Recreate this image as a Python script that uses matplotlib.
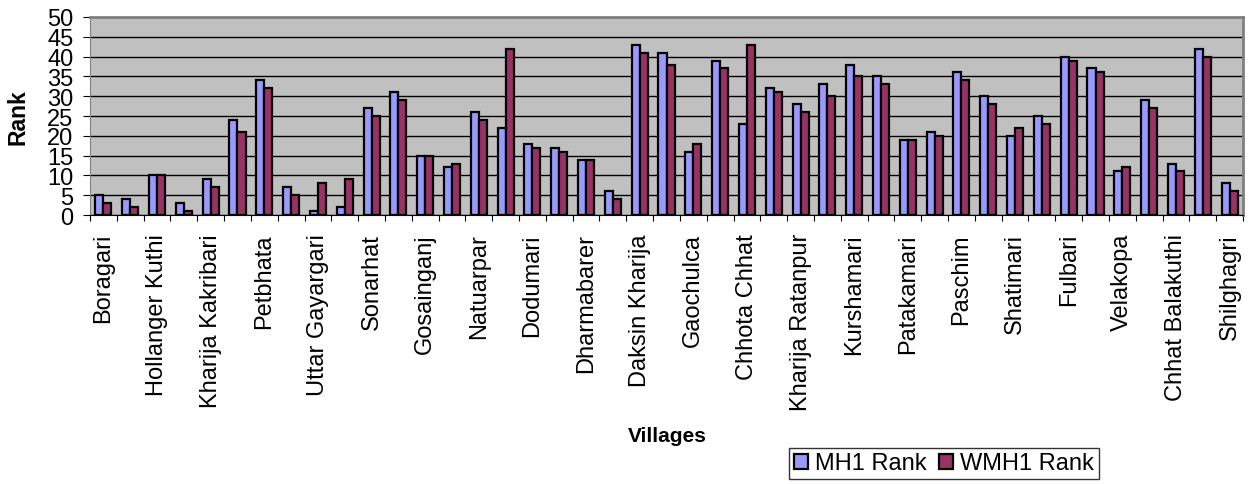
import numpy as np
import matplotlib.pyplot as plt

plt.rcParams['font.family'] = ['Liberation Sans', 'DejaVu Sans']

# label shown only on every other village (as in the original Excel chart)
villages = ['Boragari', '', 'Hollanger Kuthi', '', 'Kharija Kakribari', '', 'Petbhata', '',
            'Uttar Gayargari', '', 'Sonarhat', '', 'Gosainganj', '', 'Natuarpar', '',
            'Dodumari', '', 'Dharmabarer', '', 'Daksin Kharija', '', 'Gaochulca', '',
            'Chhota Chhat', '', 'Kharija Ratanpur', '', 'Kurshamari', '', 'Patakamari', '',
            'Paschim', '', 'Shatimari', '', 'Fulbari', '', 'Velakopa', '',
            'Chhat Balakuthi', '', 'Shilghagri']
mh1_rank = [5, 4, 10, 3, 9, 24, 34, 7, 1, 2, 27, 31, 15, 12, 26, 22, 18, 17, 14, 6, 43, 41,
            16, 39, 23, 32, 28, 33, 38, 35, 19, 21, 36, 30, 20, 25, 40, 37, 11, 29, 13, 42, 8]
wmh1_rank = [3, 2, 10, 1, 7, 21, 32, 5, 8, 9, 25, 29, 15, 13, 24, 42, 17, 16, 14, 4, 41, 38,
             18, 37, 43, 31, 26, 30, 35, 33, 19, 20, 34, 28, 22, 23, 39, 36, 12, 27, 11, 40, 6]

x = np.arange(len(villages))
w = 0.3

fig = plt.figure(figsize=(12.52, 4.85), dpi=100)
ax = fig.add_axes([0.0719, 0.5546, 0.9209, 0.4083])
ax.set_facecolor('#C0C0C0')

ax.bar(x - w / 2, mh1_rank, w, color='#9999FF', edgecolor='black', lw=1.6, label='MH1 Rank', zorder=3)
ax.bar(x + w / 2, wmh1_rank, w, color='#993366', edgecolor='black', lw=1.6, label='WMH1 Rank', zorder=3)

ax.set_xlim(-0.5, len(villages) - 0.5)
ax.set_ylim(0, 50)
ax.set_yticks(range(0, 51, 5))
ax.tick_params(axis='y', labelsize=17, length=5, direction='out', pad=7)
ax.yaxis.grid(True, color='black', lw=1, zorder=1)

# ticks between groups, labels at group centres
ax.set_xticks(np.arange(-0.5, len(villages), 1.0))
ax.set_xticklabels([])
ax.tick_params(axis='x', length=4.5, direction='out')
ax.set_xticks(x, minor=True)
ax.set_xticklabels(villages, minor=True, rotation=90, fontsize=17)
ax.tick_params(axis='x', which='minor', length=0, pad=13)

for s in ['top', 'right']:
    ax.spines[s].set_color('#808080')
    ax.spines[s].set_linewidth(2)
ax.spines['left'].set_color('#808080')
ax.spines['bottom'].set_color('black')

fig.text(0.0145, 0.7588, 'Rank', rotation=90, fontsize=16.5, fontweight='bold', ha='center', va='center')
fig.text(0.533, 0.099, 'Villages', fontsize=15, fontweight='bold', ha='center', va='center')

fig.legend(loc='center', bbox_to_anchor=(0.754, 0.0423), ncol=2, fontsize=17, frameon=True,
           fancybox=False, edgecolor='black', handlelength=0.6, handleheight=0.6,
           handletextpad=0.3, columnspacing=0.5, borderpad=0.2, borderaxespad=0)

plt.savefig('out.png', dpi=100)
